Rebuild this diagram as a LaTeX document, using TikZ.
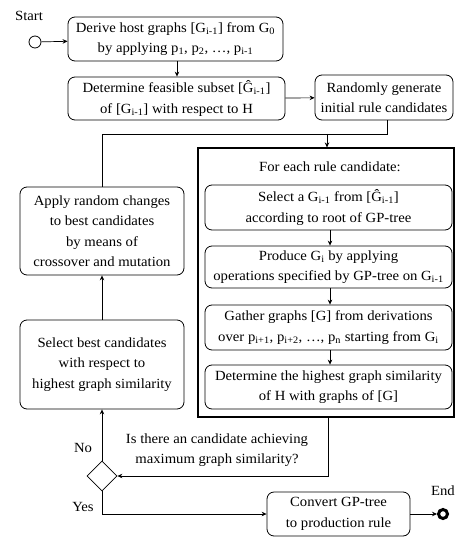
\documentclass[tikz,border=0pt]{standalone}
\usepackage{fontspec}
\setmainfont[FakeStretch=1.05]{Liberation Serif}
\usetikzlibrary{arrows.meta,shapes.geometric}
\newcommand{\lowidx}[1]{\textsubscript{#1}}
\tikzset{
  x=1pt, y=-1pt,
  every node/.style={font=\fontsize{14}{20.5}\selectfont, inner sep=0pt},
  proc/.style={draw, rounded corners=7pt, align=center, line width=0.8pt},
  flow/.style={line width=0.7pt, -{Stealth[length=5pt,width=4.5pt]}},
  plain/.style={line width=0.7pt},
}
\begin{document}
\begin{tikzpicture}
\useasboundingbox (0,0) rectangle (455,537);

% start and end events
\node[draw, circle, minimum size=12pt, line width=0.8pt] (start) at (35,42) {};
\node (startlbl) at (29,16) {Start};
\node[draw, circle, minimum size=9pt, line width=3pt] (stop) at (443,514) {};
\node[anchor=east] (stoplbl) at (455,491) {End};

% top row
\node[proc, minimum width=215pt, minimum height=44pt] (derive) at (175.5,39)
  {Derive host graphs [G\lowidx{i-1}] from G\lowidx{0}\\by applying p\lowidx{1}, p\lowidx{2}, \ldots, p\lowidx{i-1}};
\node[proc, minimum width=217pt, minimum height=43pt] (feasible) at (176.5,98.5)
  {Determine feasible subset [\^{G}\lowidx{i-1}]\\of [G\lowidx{i-1}] with respect to H};
\node[proc, minimum width=138pt, minimum height=45pt] (random) at (384,97.5)
  {Randomly generate\\initial rule candidates};

% loop over the rule candidates
\node[draw, line width=1.1pt, minimum width=256pt, minimum height=269pt] (loop) at (326,282.5) {};
\node (looptitle) at (330,167) {For each rule candidate:};
\node[proc, minimum width=247pt, minimum height=45pt] (pick) at (328.5,207.5)
  {Select a G\lowidx{i-1} from [\^{G}\lowidx{i-1}]\\according to root of GP-tree};
\node[proc, minimum width=247pt, minimum height=42pt] (produce) at (328.5,267)
  {Produce G\lowidx{i} by applying\\operations specified by GP-tree on G\lowidx{i-1}};
\node[proc, minimum width=247pt, minimum height=45pt] (gather) at (328.5,327.5)
  {Gather graphs [G] from derivations\\over p\lowidx{i+1}, p\lowidx{i+2}, \ldots, p\lowidx{n} starting from G\lowidx{i}};
\node[proc, minimum width=247pt, minimum height=44pt] (similar) at (328.5,387)
  {Determine the highest graph similarity\\of H with graphs of [G]};

% left column
\node[proc, minimum width=164pt, minimum height=88pt] (apply) at (102,231)
  {Apply random changes\\to best candidates\\by means of\\crossover and mutation};
\node[proc, minimum width=164pt, minimum height=89pt] (best) at (102,364.5)
  {Select best candidates\\with respect to\\highest graph similarity};

% decision and final step
\node[draw, diamond, minimum width=30pt, minimum height=30pt, line width=0.8pt] (check) at (102,476) {};
\node[align=center] (question) at (217,450) {Is there an candidate achieving\\maximum graph similarity?};
\node (nolbl) at (83,448) {No};
\node (yeslbl) at (83,507) {Yes};
\node[proc, minimum width=143pt, minimum height=44pt] (convert) at (338.5,514)
  {Convert GP-tree\\to production rule};

% connectors
\coordinate (joinR) at (387,134);
\coordinate (joinL) at (102,134);
\coordinate (entry) at (327,134);
\draw[flow] (start) -- (derive);
\draw[flow] (derive.south -| 177,0) -- (feasible.north -| 177,0);
\draw[flow] (feasible) -- (random);
\draw[plain] (random.south -| joinR) -- (joinR) -- (joinL) -- (apply.north);
\draw[flow] (entry) -- (entry |- loop.north);
\draw[flow] (pick.south -| 330,0) -- (produce.north -| 330,0);
\draw[flow] (produce.south -| 330,0) -- (gather.north -| 330,0);
\draw[flow] (gather.south -| 330,0) -- (similar.north -| 330,0);
\draw[flow] (loop.south -| 328,0) |- (check.east);
\draw[flow] (check.north) -- (best.south);
\draw[flow] (best.north) -- (apply.south);
\draw[flow] (check.south) |- (convert.west);
\draw[flow] (convert) -- (stop);
\end{tikzpicture}
\end{document}
